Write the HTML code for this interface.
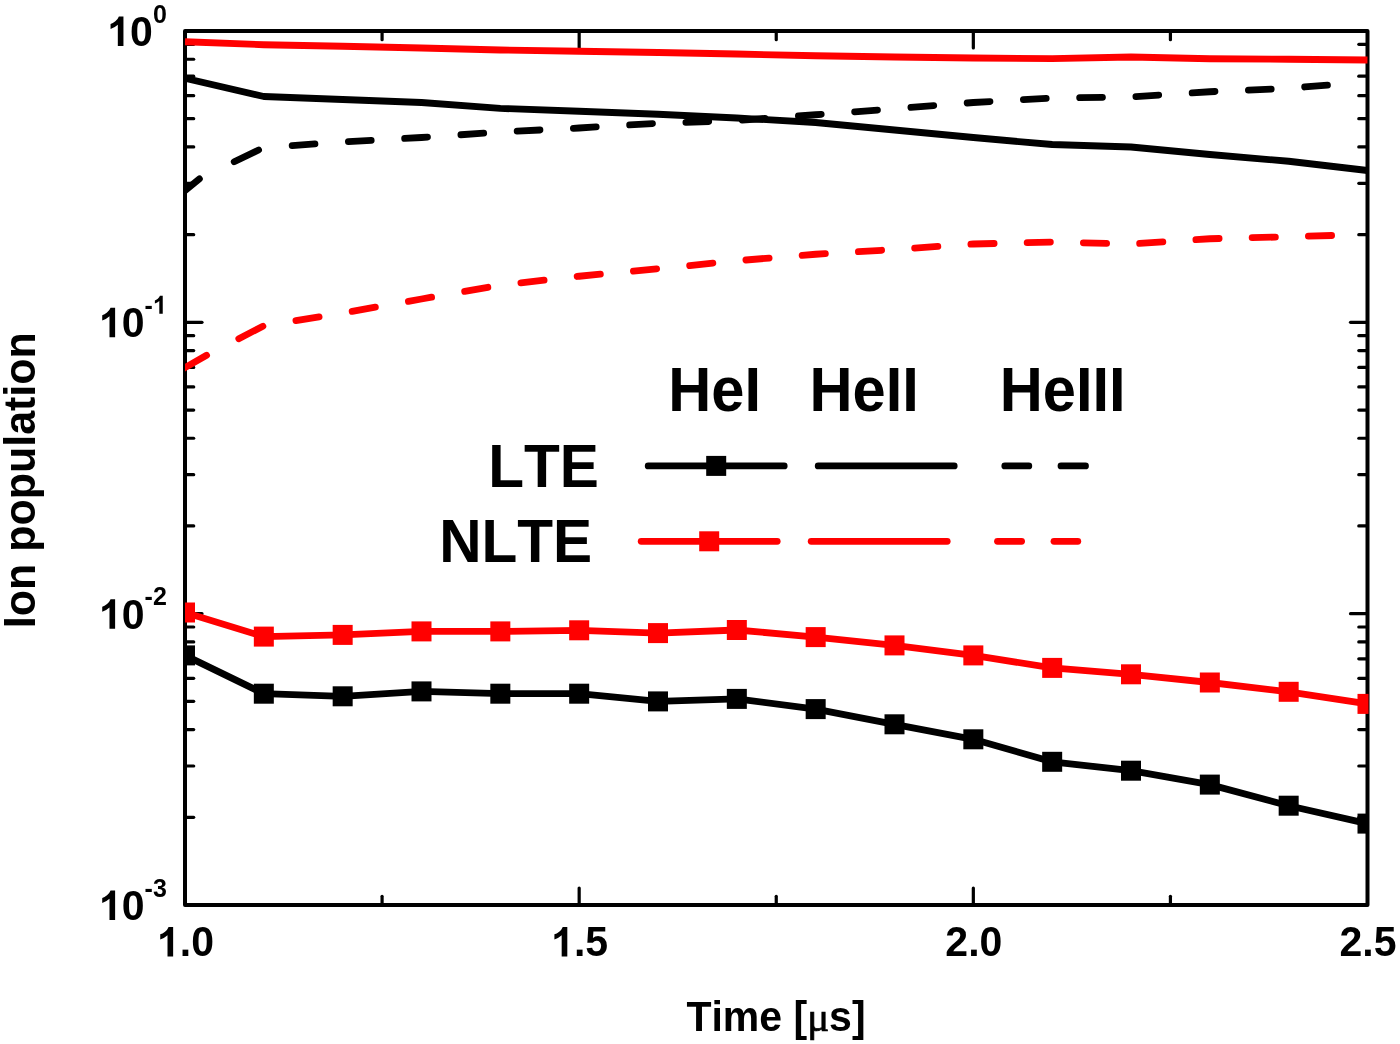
<!DOCTYPE html>
<html lang="en">
<head>
<meta charset="utf-8">
<title>Ion population vs time</title>
<style>
html,body{margin:0;padding:0;background:#ffffff;}
body{width:1400px;height:1044px;overflow:hidden;font-family:"Liberation Sans",sans-serif;}
svg{display:block;will-change:transform;}
svg text{font-kerning:none;}
</style>
</head>
<body>
<svg width="1400" height="1044" viewBox="0 0 1400 1044"><rect x="0" y="0" width="1400" height="1044" fill="#ffffff"/><defs><clipPath id="pc"><rect x="185.0" y="31.0" width="1183.5" height="874.0"/></clipPath></defs><rect x="185.0" y="31.0" width="1182.5" height="874.0" fill="none" stroke="#000000" stroke-width="4.0" stroke-linejoin="round"/><g stroke="#000000" stroke-width="3.2" stroke-linecap="round"><line x1="185.5" y1="-56.70" x2="193.7" y2="-56.70"/><line x1="1367.0" y1="-56.70" x2="1358.8" y2="-56.70"/><line x1="185.5" y1="-108.00" x2="193.7" y2="-108.00"/><line x1="1367.0" y1="-108.00" x2="1358.8" y2="-108.00"/><line x1="185.5" y1="-144.40" x2="193.7" y2="-144.40"/><line x1="1367.0" y1="-144.40" x2="1358.8" y2="-144.40"/><line x1="185.5" y1="-172.63" x2="193.7" y2="-172.63"/><line x1="1367.0" y1="-172.63" x2="1358.8" y2="-172.63"/><line x1="185.5" y1="-195.70" x2="193.7" y2="-195.70"/><line x1="1367.0" y1="-195.70" x2="1358.8" y2="-195.70"/><line x1="185.5" y1="-215.21" x2="193.7" y2="-215.21"/><line x1="1367.0" y1="-215.21" x2="1358.8" y2="-215.21"/><line x1="185.5" y1="-232.10" x2="193.7" y2="-232.10"/><line x1="1367.0" y1="-232.10" x2="1358.8" y2="-232.10"/><line x1="185.5" y1="-247.00" x2="193.7" y2="-247.00"/><line x1="1367.0" y1="-247.00" x2="1358.8" y2="-247.00"/><line x1="185.5" y1="322.33" x2="202.0" y2="322.33"/><line x1="1367.0" y1="322.33" x2="1350.5" y2="322.33"/><line x1="185.5" y1="234.63" x2="193.7" y2="234.63"/><line x1="1367.0" y1="234.63" x2="1358.8" y2="234.63"/><line x1="185.5" y1="183.33" x2="193.7" y2="183.33"/><line x1="1367.0" y1="183.33" x2="1358.8" y2="183.33"/><line x1="185.5" y1="146.93" x2="193.7" y2="146.93"/><line x1="1367.0" y1="146.93" x2="1358.8" y2="146.93"/><line x1="185.5" y1="118.70" x2="193.7" y2="118.70"/><line x1="1367.0" y1="118.70" x2="1358.8" y2="118.70"/><line x1="185.5" y1="95.63" x2="193.7" y2="95.63"/><line x1="1367.0" y1="95.63" x2="1358.8" y2="95.63"/><line x1="185.5" y1="76.13" x2="193.7" y2="76.13"/><line x1="1367.0" y1="76.13" x2="1358.8" y2="76.13"/><line x1="185.5" y1="59.23" x2="193.7" y2="59.23"/><line x1="1367.0" y1="59.23" x2="1358.8" y2="59.23"/><line x1="185.5" y1="44.33" x2="193.7" y2="44.33"/><line x1="1367.0" y1="44.33" x2="1358.8" y2="44.33"/><line x1="185.5" y1="613.67" x2="202.0" y2="613.67"/><line x1="1367.0" y1="613.67" x2="1350.5" y2="613.67"/><line x1="185.5" y1="525.97" x2="193.7" y2="525.97"/><line x1="1367.0" y1="525.97" x2="1358.8" y2="525.97"/><line x1="185.5" y1="474.67" x2="193.7" y2="474.67"/><line x1="1367.0" y1="474.67" x2="1358.8" y2="474.67"/><line x1="185.5" y1="438.27" x2="193.7" y2="438.27"/><line x1="1367.0" y1="438.27" x2="1358.8" y2="438.27"/><line x1="185.5" y1="410.03" x2="193.7" y2="410.03"/><line x1="1367.0" y1="410.03" x2="1358.8" y2="410.03"/><line x1="185.5" y1="386.97" x2="193.7" y2="386.97"/><line x1="1367.0" y1="386.97" x2="1358.8" y2="386.97"/><line x1="185.5" y1="367.46" x2="193.7" y2="367.46"/><line x1="1367.0" y1="367.46" x2="1358.8" y2="367.46"/><line x1="185.5" y1="350.57" x2="193.7" y2="350.57"/><line x1="1367.0" y1="350.57" x2="1358.8" y2="350.57"/><line x1="185.5" y1="335.66" x2="193.7" y2="335.66"/><line x1="1367.0" y1="335.66" x2="1358.8" y2="335.66"/><line x1="185.5" y1="817.30" x2="193.7" y2="817.30"/><line x1="1367.0" y1="817.30" x2="1358.8" y2="817.30"/><line x1="185.5" y1="766.00" x2="193.7" y2="766.00"/><line x1="1367.0" y1="766.00" x2="1358.8" y2="766.00"/><line x1="185.5" y1="729.60" x2="193.7" y2="729.60"/><line x1="1367.0" y1="729.60" x2="1358.8" y2="729.60"/><line x1="185.5" y1="701.37" x2="193.7" y2="701.37"/><line x1="1367.0" y1="701.37" x2="1358.8" y2="701.37"/><line x1="185.5" y1="678.30" x2="193.7" y2="678.30"/><line x1="1367.0" y1="678.30" x2="1358.8" y2="678.30"/><line x1="185.5" y1="658.79" x2="193.7" y2="658.79"/><line x1="1367.0" y1="658.79" x2="1358.8" y2="658.79"/><line x1="185.5" y1="641.90" x2="193.7" y2="641.90"/><line x1="1367.0" y1="641.90" x2="1358.8" y2="641.90"/><line x1="185.5" y1="627.00" x2="193.7" y2="627.00"/><line x1="1367.0" y1="627.00" x2="1358.8" y2="627.00"/><line x1="382.08" y1="31.5" x2="382.08" y2="39.7"/><line x1="382.08" y1="904.5" x2="382.08" y2="896.3"/><line x1="579.17" y1="31.5" x2="579.17" y2="48.0"/><line x1="579.17" y1="904.5" x2="579.17" y2="888.0"/><line x1="776.25" y1="31.5" x2="776.25" y2="39.7"/><line x1="776.25" y1="904.5" x2="776.25" y2="896.3"/><line x1="973.33" y1="31.5" x2="973.33" y2="48.0"/><line x1="973.33" y1="904.5" x2="973.33" y2="888.0"/><line x1="1170.42" y1="31.5" x2="1170.42" y2="39.7"/><line x1="1170.42" y1="904.5" x2="1170.42" y2="896.3"/></g><g clip-path="url(#pc)"><polyline points="185.00,655.40 263.83,693.70 342.67,696.30 421.50,691.40 500.33,693.70 579.17,693.70 658.00,701.40 736.83,698.90 815.67,709.10 894.50,724.30 973.33,739.30 1052.17,761.80 1131.00,770.70 1209.83,784.60 1288.67,805.70 1367.50,823.60" fill="none" stroke="#000000" stroke-width="6.8" stroke-linejoin="round" stroke-linecap="butt" /><rect x="175.00" y="645.40" width="20.0" height="20.0" fill="#000000"/><rect x="253.83" y="683.70" width="20.0" height="20.0" fill="#000000"/><rect x="332.67" y="686.30" width="20.0" height="20.0" fill="#000000"/><rect x="411.50" y="681.40" width="20.0" height="20.0" fill="#000000"/><rect x="490.33" y="683.70" width="20.0" height="20.0" fill="#000000"/><rect x="569.17" y="683.70" width="20.0" height="20.0" fill="#000000"/><rect x="648.00" y="691.40" width="20.0" height="20.0" fill="#000000"/><rect x="726.83" y="688.90" width="20.0" height="20.0" fill="#000000"/><rect x="805.67" y="699.10" width="20.0" height="20.0" fill="#000000"/><rect x="884.50" y="714.30" width="20.0" height="20.0" fill="#000000"/><rect x="963.33" y="729.30" width="20.0" height="20.0" fill="#000000"/><rect x="1042.17" y="751.80" width="20.0" height="20.0" fill="#000000"/><rect x="1121.00" y="760.70" width="20.0" height="20.0" fill="#000000"/><rect x="1199.83" y="774.60" width="20.0" height="20.0" fill="#000000"/><rect x="1278.67" y="795.70" width="20.0" height="20.0" fill="#000000"/><rect x="1357.50" y="813.60" width="20.0" height="20.0" fill="#000000"/><polyline points="185.00,612.50 263.83,636.60 342.67,634.90 421.50,631.40 500.33,631.40 579.17,630.30 658.00,633.10 736.83,630.00 815.67,637.10 894.50,645.40 973.33,655.40 1052.17,667.90 1131.00,674.30 1209.83,682.50 1288.67,691.80 1367.50,703.90" fill="none" stroke="#ff0000" stroke-width="6.8" stroke-linejoin="round" stroke-linecap="butt" /><rect x="175.00" y="602.50" width="20.0" height="20.0" fill="#ff0000"/><rect x="253.83" y="626.60" width="20.0" height="20.0" fill="#ff0000"/><rect x="332.67" y="624.90" width="20.0" height="20.0" fill="#ff0000"/><rect x="411.50" y="621.40" width="20.0" height="20.0" fill="#ff0000"/><rect x="490.33" y="621.40" width="20.0" height="20.0" fill="#ff0000"/><rect x="569.17" y="620.30" width="20.0" height="20.0" fill="#ff0000"/><rect x="648.00" y="623.10" width="20.0" height="20.0" fill="#ff0000"/><rect x="726.83" y="620.00" width="20.0" height="20.0" fill="#ff0000"/><rect x="805.67" y="627.10" width="20.0" height="20.0" fill="#ff0000"/><rect x="884.50" y="635.40" width="20.0" height="20.0" fill="#ff0000"/><rect x="963.33" y="645.40" width="20.0" height="20.0" fill="#ff0000"/><rect x="1042.17" y="657.90" width="20.0" height="20.0" fill="#ff0000"/><rect x="1121.00" y="664.30" width="20.0" height="20.0" fill="#ff0000"/><rect x="1199.83" y="672.50" width="20.0" height="20.0" fill="#ff0000"/><rect x="1278.67" y="681.80" width="20.0" height="20.0" fill="#ff0000"/><rect x="1357.50" y="693.90" width="20.0" height="20.0" fill="#ff0000"/><polyline points="185.00,78.25 263.83,96.50 342.67,99.50 421.50,102.50 500.33,108.40 579.17,111.25 658.00,114.25 736.83,118.00 815.67,122.50 894.50,130.00 973.33,137.50 1052.17,144.50 1131.00,147.00 1209.83,154.50 1288.67,161.25 1367.50,170.50" fill="none" stroke="#000000" stroke-width="6.8" stroke-linejoin="round" stroke-linecap="butt" /><g fill="none" stroke="#000000" stroke-width="6.8" stroke-linecap="round" stroke-linejoin="round"><polyline points="179.65,194.90 185.00,190.50 199.40,178.89"/><polyline points="234.20,161.77 258.60,150.02"/><polyline points="292.15,145.52 314.95,143.93"/><polyline points="348.40,141.67 371.20,140.37"/><polyline points="404.65,138.46 421.50,137.50 427.45,137.08"/><polyline points="460.90,134.75 483.70,133.16"/><polyline points="517.15,131.15 539.95,129.99"/><polyline points="573.40,128.29 579.17,128.00 596.20,126.97"/><polyline points="629.65,124.96 652.45,123.58"/><polyline points="685.90,122.28 708.70,121.48"/><polyline points="742.15,120.11 764.95,118.45"/><polyline points="798.40,116.01 815.67,114.75 821.20,114.33"/><polyline points="854.65,111.78 877.45,110.05"/><polyline points="910.90,107.45 933.70,105.64"/><polyline points="967.15,102.99 973.33,102.50 989.95,101.55"/><polyline points="1023.40,99.64 1046.20,98.34"/><polyline points="1079.65,97.62 1102.45,97.30"/><polyline points="1135.90,96.58 1158.70,95.09"/><polyline points="1192.15,92.91 1209.83,91.75 1214.95,91.52"/><polyline points="1248.40,90.04 1271.20,89.03"/><polyline points="1304.65,86.98 1327.45,85.18"/></g><polyline points="185.00,41.75 263.83,44.75 342.67,46.25 421.50,48.00 500.33,50.00 579.17,51.25 658.00,52.50 736.83,54.00 815.67,55.75 894.50,57.00 973.33,58.00 1052.17,58.60 1131.00,57.00 1209.83,58.75 1288.67,59.25 1367.50,60.00" fill="none" stroke="#ff0000" stroke-width="6.8" stroke-linejoin="round" stroke-linecap="butt" /><g fill="none" stroke="#ff0000" stroke-width="6.8" stroke-linecap="round" stroke-linejoin="round"><polyline points="183.40,368.51 185.00,367.60 206.60,355.33"/><polyline points="238.80,338.68 262.90,326.23"/><polyline points="295.90,320.56 319.10,316.81"/><polyline points="352.15,311.32 375.35,307.20"/><polyline points="408.40,301.33 421.50,299.00 431.60,297.22"/><polyline points="464.65,291.39 487.85,287.30"/><polyline points="520.90,282.79 544.10,280.19"/><polyline points="577.15,276.48 579.17,276.25 600.35,274.23"/><polyline points="633.40,271.09 656.60,268.88"/><polyline points="689.65,265.54 712.85,263.18"/><polyline points="745.90,260.00 769.10,258.09"/><polyline points="802.15,255.36 815.67,254.25 825.35,253.67"/><polyline points="858.40,251.68 881.60,250.28"/><polyline points="914.65,248.09 937.85,246.48"/><polyline points="970.90,244.17 973.33,244.00 994.10,243.50"/><polyline points="1027.15,242.70 1050.35,242.14"/><polyline points="1083.40,242.85 1106.60,243.41"/><polyline points="1139.65,243.42 1162.85,241.88"/><polyline points="1195.90,239.68 1209.83,238.75 1219.10,238.51"/><polyline points="1252.15,237.68 1275.35,237.09"/><polyline points="1308.40,236.19 1331.60,235.52"/></g></g><g font-family='"Liberation Sans", sans-serif' font-weight="bold" fill="#000000"><text x="157.00" y="956.40" font-size="41.0" fill="none">1</text><path d="M806 0H525V1059Q371 915 162 846V1101Q272 1137 401 1237.5Q530 1338 578 1472H806Z" transform="translate(157.00,956.40) scale(0.02002,-0.02002)"/><text transform="translate(179.80,956.40) scale(1,1.055)" font-size="41.0">.</text><text transform="translate(191.20,956.40) scale(1,1.055)" font-size="41.0">0</text><text x="551.17" y="956.40" font-size="41.0" fill="none">1</text><path d="M806 0H525V1059Q371 915 162 846V1101Q272 1137 401 1237.5Q530 1338 578 1472H806Z" transform="translate(551.17,956.40) scale(0.02002,-0.02002)"/><text transform="translate(573.97,956.40) scale(1,1.055)" font-size="41.0">.</text><text transform="translate(585.37,956.40) scale(1,1.055)" font-size="41.0">5</text><text transform="translate(945.34,956.40) scale(1,1.055)" font-size="41.0">2</text><text transform="translate(968.13,956.40) scale(1,1.055)" font-size="41.0">.</text><text transform="translate(979.53,956.40) scale(1,1.055)" font-size="41.0">0</text><text transform="translate(1339.51,956.40) scale(1,1.055)" font-size="41.0">2</text><text transform="translate(1362.30,956.40) scale(1,1.055)" font-size="41.0">.</text><text transform="translate(1373.70,956.40) scale(1,1.055)" font-size="41.0">5</text><text transform="translate(152.90,22.50) scale(1,1.055)" font-size="25.0">0</text><text x="107.31" y="46.00" font-size="41.0" fill="none">1</text><path d="M806 0H525V1059Q371 915 162 846V1101Q272 1137 401 1237.5Q530 1338 578 1472H806Z" transform="translate(107.31,46.00) scale(0.02002,-0.02002)"/><text transform="translate(130.10,46.00) scale(1,1.055)" font-size="41.0">0</text><text transform="translate(144.58,313.83) scale(1,1.055)" font-size="25.0">-</text><text x="152.90" y="313.83" font-size="25.0" fill="none">1</text><path d="M806 0H525V1059Q371 915 162 846V1101Q272 1137 401 1237.5Q530 1338 578 1472H806Z" transform="translate(152.90,313.83) scale(0.01221,-0.01221)"/><text x="98.98" y="337.33" font-size="41.0" fill="none">1</text><path d="M806 0H525V1059Q371 915 162 846V1101Q272 1137 401 1237.5Q530 1338 578 1472H806Z" transform="translate(98.98,337.33) scale(0.02002,-0.02002)"/><text transform="translate(121.78,337.33) scale(1,1.055)" font-size="41.0">0</text><text transform="translate(144.58,605.17) scale(1,1.055)" font-size="25.0">-</text><text transform="translate(152.90,605.17) scale(1,1.055)" font-size="25.0">2</text><text x="98.98" y="628.67" font-size="41.0" fill="none">1</text><path d="M806 0H525V1059Q371 915 162 846V1101Q272 1137 401 1237.5Q530 1338 578 1472H806Z" transform="translate(98.98,628.67) scale(0.02002,-0.02002)"/><text transform="translate(121.78,628.67) scale(1,1.055)" font-size="41.0">0</text><text transform="translate(144.58,896.50) scale(1,1.055)" font-size="25.0">-</text><text transform="translate(152.90,896.50) scale(1,1.055)" font-size="25.0">3</text><text x="98.98" y="920.00" font-size="41.0" fill="none">1</text><path d="M806 0H525V1059Q371 915 162 846V1101Q272 1137 401 1237.5Q530 1338 578 1472H806Z" transform="translate(98.98,920.00) scale(0.02002,-0.02002)"/><text transform="translate(121.78,920.00) scale(1,1.055)" font-size="41.0">0</text><text transform="translate(776.00,1030.50) scale(1,1.03)" font-size="41" text-anchor="middle">Time [<tspan font-weight="normal" font-family='"Liberation Serif", serif' stroke="#000" stroke-width="0.7">μ</tspan>s]</text><text transform="translate(35.3,480.2) rotate(-90) scale(1,1.03)" font-size="43" text-anchor="middle">Ion population</text><text transform="translate(668.20,411.20) scale(1,1.042)" font-size="59.6" text-anchor="start">HeI</text><text transform="translate(809.50,411.20) scale(1,1.042)" font-size="59.6" text-anchor="start">HeII</text><text transform="translate(999.70,411.20) scale(1,1.042)" font-size="59.6" text-anchor="start">HeIII</text><text transform="translate(598.90,486.50) scale(1,1.042)" font-size="58.6" text-anchor="end">LTE</text><text transform="translate(592.20,561.60) scale(1,1.042)" font-size="58.6" text-anchor="end">NLTE</text></g><line x1="648.2" y1="465.9" x2="784.2" y2="465.9" stroke="#000000" stroke-width="6.8" stroke-linecap="round"/><rect x="706.2" y="455.9" width="20.0" height="20.0" fill="#000000"/><line x1="818.2" y1="465.9" x2="954.2" y2="465.9" stroke="#000000" stroke-width="6.8" stroke-linecap="round"/><g fill="none" stroke="#000000" stroke-width="6.8" stroke-linecap="round" stroke-linejoin="round"><polyline points="1004.80,465.90 1028.80,465.90"/><polyline points="1061.00,465.90 1085.50,465.90"/></g><line x1="641.2" y1="541.3" x2="777.2" y2="541.3" stroke="#ff0000" stroke-width="6.8" stroke-linecap="round"/><rect x="699.2" y="531.3" width="20.0" height="20.0" fill="#ff0000"/><line x1="811.2" y1="541.3" x2="947.2" y2="541.3" stroke="#ff0000" stroke-width="6.8" stroke-linecap="round"/><g fill="none" stroke="#ff0000" stroke-width="6.8" stroke-linecap="round" stroke-linejoin="round"><polyline points="997.50,541.30 1021.60,541.30"/><polyline points="1054.00,541.30 1077.80,541.30"/></g></svg>
</body>
</html>
